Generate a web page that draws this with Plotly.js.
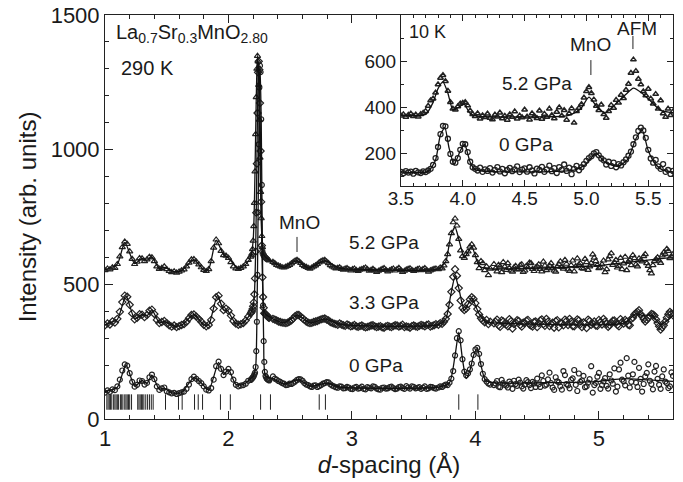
<!DOCTYPE html>
<html>
<head>
<meta charset="utf-8">
<script src="https://cdn.plot.ly/plotly-3.0.1.min.js"></script>
<style>html,body{margin:0;padding:0;background:#fff;}#chart{width:683px;height:482px;}</style>
</head>
<body>
<div id="chart"></div>
<script>
// ---- main panel (290 K): d-spacing grid shared by all three pressures ----
const dMain = [
1.00,1.02,1.04,1.06,1.08,1.10,1.12,1.14,1.16,1.18,1.20,1.22,1.24,1.26,1.28,1.30,1.32,1.34,1.36,1.38,
1.40,1.42,1.44,1.46,1.48,1.50,1.52,1.54,1.56,1.58,1.60,1.62,1.64,1.66,1.68,1.70,1.72,1.74,1.76,1.78,
1.80,1.82,1.84,1.86,1.88,1.90,1.92,1.94,1.96,1.98,2.00,2.02,2.04,2.06,2.08,2.10,2.12,2.14,2.16,
2.180,2.185,2.190,2.195,2.200,2.205,2.210,2.215,2.220,2.225,2.230,2.235,2.240,2.245,2.250,2.255,2.260,
2.265,2.270,2.275,2.280,2.285,2.290,2.295,2.300,2.305,2.310,2.315,2.320,2.325,2.330,
2.36,2.39,2.42,2.45,2.48,2.51,2.54,2.57,2.60,2.63,2.66,2.69,2.72,2.75,2.78,2.81,2.84,2.87,2.90,2.93,
2.96,2.99,3.02,3.05,3.08,3.11,3.14,3.17,3.20,3.23,3.26,3.29,3.32,3.35,3.38,3.41,3.44,3.47,3.50,3.53,
3.56,3.59,3.62,3.65,3.68,
3.700,3.715,3.730,3.745,3.760,3.775,3.790,3.805,3.820,3.835,3.850,3.865,3.880,3.895,3.910,3.925,3.940,
3.955,3.970,3.985,4.000,4.015,4.030,4.045,4.060,4.075,4.090,4.105,4.120,
4.150,4.175,4.200,4.225,4.250,4.275,4.300,4.325,4.350,4.375,4.400,4.425,4.450,4.475,4.500,4.525,4.550,
4.575,4.600,4.625,4.650,4.675,4.700,4.725,4.750,4.775,4.800,4.825,4.850,4.875,4.900,4.925,4.950,4.975,
5.000,5.025,5.050,5.075,5.100,5.125,5.150,5.175,5.200,5.225,5.250,5.275,5.300,5.325,5.350,5.375,5.400,
5.425,5.450,5.475,5.500,5.525,5.550,5.575,5.600];

const obs0GPa = [
98,106,101,110,107,121,146,180,203,198,170,138,120,127,143,141,128,134,155,165,
148,121,108,114,117,103,99,95,97,93,96,99,102,112,128,148,157,149,141,133,
121,109,106,115,146,196,213,186,163,176,186,174,146,127,121,124,126,131,142,
145,148,150,153,156,160,166,172,193,252,361,535,767,1020,1231,1312,1288,1113,869,622,422,289,212,175,160,155,150,148,146,145,143,
158,146,138,131,127,130,139,148,142,128,121,124,119,126,133,136,124,118,121,114,
119,112,117,113,120,110,116,121,113,109,117,114,120,111,118,115,122,113,119,116,112,121,114,118,113,
117,121,119,124,128,126,135,150,178,236,300,326,292,222,176,162,170,184,206,238,258,264,242,204,168,148,139,132,128,
126,141,118,133,124,139,112,130,146,121,128,137,115,132,150,119,141,128,172,117,
155,136,109,163,125,145,182,104,138,160,121,148,98,134,171,126,152,113,143,188,
120,209,140,226,117,166,135,190,102,158,203,130,176,149,112,184,133,121,160];

const obs3GPa = [
348,355,351,362,358,372,398,434,458,454,424,392,370,376,389,387,378,386,402,406,
390,368,356,360,364,356,348,343,347,341,345,349,352,361,374,386,388,380,371,361,
350,344,349,368,410,452,458,428,404,410,402,384,364,354,350,352,356,366,380,
392,396,401,408,419,433,463,522,622,766,948,1136,1287,1328,1297,1173,995,806,644,526,453,413,393,392,389,386,384,381,379,377,376,
372,366,360,357,358,366,382,386,374,362,356,360,364,370,373,366,357,352,355,348,
351,344,349,342,347,340,344,348,341,345,339,346,341,348,343,350,344,339,347,342,349,344,351,346,352,
350,356,353,361,372,390,424,472,528,556,532,486,440,412,404,410,426,444,452,446,430,408,388,374,366,359,368,352,361,
355,369,342,362,350,371,336,358,364,343,357,368,347,360,341,366,352,372,345,358,
363,340,356,369,349,361,344,370,352,359,338,364,355,347,368,351,362,342,358,366,
349,371,354,362,348,376,394,404,381,362,375,390,384,356,332,348,376,398,385];

const obs52GPa = [
552,558,555,563,561,575,603,638,658,650,622,594,575,584,597,596,586,592,602,600,
586,566,557,561,566,556,549,545,548,543,547,551,555,566,580,592,593,584,574,563,
553,549,556,586,636,666,652,624,608,606,598,582,566,559,557,561,566,575,590,
602,607,614,630,662,716,802,919,1057,1195,1300,1348,1327,1240,1111,970,843,745,679,638,617,612,607,604,601,598,597,594,592,590,588,
583,572,566,562,568,577,588,586,572,564,558,566,575,586,590,578,566,559,563,554,
560,551,558,549,556,562,550,557,546,553,560,548,555,551,561,546,554,559,549,556,552,560,547,554,558,
556,562,559,570,586,612,648,690,730,744,718,668,626,604,598,612,622,640,648,636,608,582,560,586,578,552,566,534,558,
575,548,566,582,553,561,547,568,556,574,551,563,578,549,566,557,584,552,569,560,
547,575,564,590,555,571,548,596,578,558,582,566,611,586,560,574,545,592,615,581,
562,598,577,552,591,608,574,596,585,612,568,540,586,600,579,618,631,597,612];

// additional observed points lying between the grid points above
const dExtra = [
2.375,2.405,2.435,2.465,2.495,2.525,2.555,2.585,2.615,2.645,2.675,2.705,2.735,2.765,2.795,2.825,2.855,2.885,2.915,2.945,
2.975,3.005,3.035,3.065,3.095,3.125,3.155,3.185,3.215,3.245,3.275,3.305,3.335,3.365,3.395,3.425,3.455,3.485,3.515,3.545,
3.575,3.605,3.635,3.665,
4.1625,4.1875,4.2125,4.2375,4.2625,4.2875,4.3125,4.3375,4.3625,4.3875,4.4125,4.4375,4.4625,4.4875,4.5125,4.5375,4.5625,4.5875,
4.6125,4.6375,4.6625,4.6875,4.7125,4.7375,4.7625,4.7875,4.8125,4.8375,4.8625,4.8875,4.9125,4.9375,4.9625,4.9875,5.0125,5.0375,
5.0625,5.0875,5.1125,5.1375,5.1625,5.1875,5.2125,5.2375,5.2625,5.2875,5.3125,5.3375,5.3625,5.3875,5.4125,5.4375,5.4625,5.4875,
5.5125,5.5375,5.5625,5.5875];
const extra0GPa = [
150,141,133,126,131,134,145,147,133,126,119,125,122,131,137,129,121,116,120,115,
117,111,119,115,112,118,114,119,110,116,113,118,115,113,120,112,117,121,114,118,116,112,119,115,
132,120,145,127,117,131,142,123,135,113,144,126,138,119,129,162,124,147,133,108,
140,121,178,130,114,151,127,169,143,118,135,196,126,157,112,140,123,166,131,102,
184,146,125,161,138,212,119,149,130,171,142,110,197,127,158,139,115,173];
const extra3GPa = [
369,362,358,356,362,374,386,380,368,358,357,362,367,372,369,360,354,350,351,346,
348,346,344,345,343,342,347,344,343,340,344,343,345,347,346,341,342,345,344,346,347,349,343,348,
361,348,366,355,344,363,352,367,349,358,365,351,343,362,356,370,346,361,353,339,
367,357,348,364,372,345,358,366,341,355,369,350,362,346,360,372,353,348,365,357,
344,360,368,350,372,388,398,390,371,368,382,388,370,344,340,362,389,392];
const extra52GPa = [
578,569,563,565,572,583,590,579,567,561,562,570,581,589,584,571,562,561,557,558,
555,556,552,554,559,556,553,551,550,557,553,551,558,556,553,550,557,553,552,558,556,553,551,557,
559,572,545,566,578,551,563,555,571,546,568,580,557,562,574,548,569,560,578,551,
565,585,558,576,549,588,567,573,560,594,553,579,599,572,563,588,556,604,572,590,
568,556,602,583,571,597,566,589,604,578,552,571,593,588,607,612,624,603];

// fitted profiles (main panel)
const fit0D = [1.00,1.10,1.17,1.24,1.30,1.34,1.38,1.44,1.48,1.54,1.62,1.72,1.78,1.84,1.92,1.96,2.00,2.06,2.12,2.18,2.20,2.22,2.23,2.24,2.25,2.256,2.265,2.275,2.285,2.30,2.36,2.45,2.57,2.66,2.80,2.90,3.20,3.70,3.79,3.835,3.865,3.895,3.925,3.955,3.985,4.015,4.045,4.08,4.15,4.60,5.00,5.20,5.40,5.60];
const fit0Y = [102,118,202,122,143,132,163,110,115,97,98,154,134,107,210,165,183,128,128,150,158,193,361,767,1231,1312,1113,622,289,160,150,130,146,122,133,118,114,118,135,236,322,222,150,180,236,262,200,145,135,135,140,150,145,140];
const fit3D = [1.00,1.10,1.17,1.24,1.30,1.34,1.38,1.44,1.48,1.56,1.62,1.72,1.80,1.84,1.91,1.96,1.99,2.06,2.12,2.18,2.20,2.21,2.22,2.23,2.24,2.246,2.255,2.265,2.275,2.285,2.30,2.36,2.45,2.56,2.66,2.78,2.90,3.20,3.70,3.76,3.80,3.835,3.865,3.91,3.97,4.03,4.09,4.20,5.20,5.30,5.35,5.43,5.50,5.60];
const fit3Y = [350,370,458,372,388,383,405,357,362,345,348,388,349,350,458,405,404,354,357,392,419,463,622,948,1287,1330,1173,806,526,413,389,372,357,386,357,372,352,345,350,372,460,530,486,404,448,390,360,356,356,390,385,385,350,385];
const fit52D = [1.00,1.10,1.16,1.24,1.30,1.34,1.38,1.44,1.48,1.56,1.62,1.72,1.80,1.84,1.90,1.96,2.00,2.08,2.14,2.18,2.20,2.21,2.22,2.23,2.236,2.245,2.255,2.265,2.28,2.30,2.36,2.45,2.55,2.65,2.78,2.90,3.20,3.70,3.76,3.80,3.835,3.865,3.91,3.97,4.03,4.10,4.50,5.00,5.30,5.60];
const fit52Y = [554,575,656,577,596,590,601,558,563,547,551,592,553,557,664,610,598,558,574,602,662,802,1057,1300,1350,1240,970,745,617,601,583,563,588,560,588,560,554,557,585,680,712,668,600,640,568,558,560,570,585,600];

// Bragg reflection positions
const braggD = [1.015,1.025,1.035,1.045,1.055,1.07,1.08,1.09,1.10,1.11,1.125,1.135,1.145,1.16,1.17,1.18,1.19,1.20,1.215,1.265,1.275,1.285,1.295,1.305,1.315,1.33,1.345,1.36,1.375,1.39,1.49,1.595,1.625,1.725,1.755,1.79,1.935,2.015,2.26,2.34,2.735,2.785,3.865,4.02];
const braggLevel = 63;

// ---- inset (10 K) ----
const dInset = [3.50,3.52,3.54,3.56,3.58,3.60,3.62,3.64,3.66,3.68,3.70,3.72,3.74,3.76,3.78,3.80,3.82,3.84,3.86,3.88,
3.90,3.92,3.94,3.96,3.98,4.00,4.02,4.04,4.06,4.08,4.10,4.12,4.14,4.16,4.18,4.20,4.22,4.24,4.26,4.28,
4.30,4.32,4.34,4.36,4.38,4.40,4.42,4.44,4.46,4.48,4.50,4.52,4.54,4.56,4.58,4.60,4.62,4.64,4.66,4.68,
4.70,4.72,4.74,4.76,4.78,4.80,4.82,4.84,4.86,4.88,4.90,4.92,4.94,4.96,4.98,5.00,5.02,5.04,5.06,5.08,
5.10,5.12,5.14,5.16,5.18,5.20,5.22,5.24,5.26,5.28,5.30,5.32,5.34,5.36,5.38,5.40,5.42,5.44,5.46,5.48,
5.50,5.52,5.54,5.56,5.58,5.60,5.62,5.64,5.66,5.68,5.70];
const in52GPa = [362,368,357,365,371,360,366,358,369,374,382,404,428,436,462,498,526,538,512,470,
421,392,388,402,414,418,421,406,384,369,360,372,349,363,355,371,352,346,366,358,
375,350,361,344,368,356,380,349,362,354,388,358,345,372,360,351,384,348,370,357,
392,364,350,378,398,362,386,344,372,394,331,382,396,412,440,468,486,460,432,404,
386,410,368,352,382,408,396,430,418,452,438,474,500,548,606,556,522,498,468,450,
478,436,414,456,392,428,372,356,392,364,380];
const in0GPa = [118,112,121,115,119,110,122,116,113,120,117,124,131,148,178,226,282,318,316,262,
196,162,158,178,214,240,238,204,162,138,131,124,136,118,129,122,134,115,127,139,
120,131,112,126,135,121,129,142,117,128,133,119,138,124,111,132,126,140,118,129,
145,121,134,113,139,127,150,122,136,108,131,144,125,138,152,166,178,186,198,204,
190,176,168,150,162,144,158,138,152,146,160,172,188,206,238,268,296,310,298,266,
214,176,158,170,142,131,152,118,126,109,122];
const fitIn52D = [3.50,3.70,3.76,3.80,3.84,3.88,3.92,3.97,4.01,4.06,4.12,4.50,4.85,4.95,5.02,5.08,5.15,5.25,5.32,5.38,5.45,5.52,5.60,5.70];
const fitIn52Y = [365,368,420,480,509,460,388,400,412,372,360,357,362,390,443,405,374,420,455,482,460,425,385,375];
const fitIn0D = [3.50,3.72,3.78,3.82,3.855,3.89,3.93,3.98,4.015,4.06,4.10,4.90,4.98,5.08,5.15,5.25,5.33,5.40,5.45,5.50,5.56,5.62,5.70];
const fitIn0Y = [117,120,170,280,310,220,150,210,238,160,128,126,145,198,160,142,170,262,300,210,150,125,118];

const ink = '#222222';
const mk = (sym, size, w) => ({symbol: sym, size: size, color: ink, line: {color: ink, width: w}});
const fitLine = {color: '#111111', width: 1.3, shape: 'spline', smoothing: 0.6};
const pts = (x, y, marker, xa, ya) => ({x: x, y: y, type: 'scatter', mode: 'markers', marker: marker, xaxis: xa, yaxis: ya});
const fit = (x, y, xa, ya) => ({x: x, y: y, type: 'scatter', mode: 'lines', line: fitLine, xaxis: xa, yaxis: ya});

const traces = [
  pts(dMain, obs0GPa, mk('circle-open', 5, 1.2), 'x', 'y'),
  pts(dExtra, extra0GPa, mk('circle-open', 5, 1.2), 'x', 'y'),
  pts(dMain, obs3GPa, mk('diamond-open', 5.5, 1.2), 'x', 'y'),
  pts(dExtra, extra3GPa, mk('diamond-open', 5.5, 1.2), 'x', 'y'),
  pts(dMain, obs52GPa, mk('triangle-up-open', 5.5, 1.2), 'x', 'y'),
  pts(dExtra, extra52GPa, mk('triangle-up-open', 5.5, 1.2), 'x', 'y'),
  fit(fit0D, fit0Y, 'x', 'y'),
  fit(fit3D, fit3Y, 'x', 'y'),
  fit(fit52D, fit52Y, 'x', 'y'),
  pts(braggD, braggD.map(() => braggLevel),
      {symbol: 'line-ns-open', size: 11, color: ink, line: {color: ink, width: 1}}, 'x', 'y'),
  pts(dInset, in0GPa, mk('circle-open', 5, 1.3), 'x2', 'y2'),
  pts(dInset, in52GPa, mk('triangle-up-open', 5, 1.5), 'x2', 'y2'),
  fit(fitIn0D, fitIn0Y, 'x2', 'y2'),
  fit(fitIn52D, fitIn52Y, 'x2', 'y2')
];

const axBase = {
  showline: true, linecolor: ink, linewidth: 1, mirror: 'ticks', ticks: 'inside',
  tickcolor: ink, tickwidth: 1, showgrid: false, zeroline: false
};

const font = 'Liberation Sans, Arial, Helvetica, sans-serif';
const ann = (xref, yref, x, y, text, size, xanchor) => ({
  xref: xref, yref: yref, x: x, y: y, text: text, showarrow: false,
  xanchor: xanchor || 'left', yanchor: 'middle', font: {size: size, color: '#1a1a1a', family: font}
});

const layout = {
  width: 683, height: 482,
  margin: {l: 105, r: 10, t: 15, b: 63},
  paper_bgcolor: '#ffffff', plot_bgcolor: '#ffffff',
  showlegend: false,
  font: {family: font, color: '#1a1a1a'},
  xaxis: Object.assign({}, axBase, {
    domain: [0, 1], anchor: 'y', range: [1, 5.6], tickvals: [1, 2, 3, 4, 5], ticklen: 8,
    minor: {ticks: 'inside', dtick: 0.2, tick0: 1, ticklen: 4, tickcolor: ink, tickwidth: 1},
    tickfont: {size: 22, family: font, color: '#1a1a1a'},
    title: {text: '<i>d</i>-spacing (Å)', font: {size: 24, family: font, color: '#1a1a1a'}, standoff: 4}
  }),
  yaxis: Object.assign({}, axBase, {
    domain: [0, 1], anchor: 'x', range: [0, 1500], tickvals: [0, 500, 1000, 1500], ticklen: 8,
    minor: {ticks: 'inside', dtick: 100, tick0: 0, ticklen: 4, tickcolor: ink, tickwidth: 1},
    tickfont: {size: 22, family: font, color: '#1a1a1a'},
    title: {text: 'Intensity (arb. units)', font: {size: 24, family: font, color: '#1a1a1a'}, standoff: 7}
  }),
  xaxis2: Object.assign({}, axBase, {
    domain: [0.521, 1], anchor: 'y2', range: [3.5, 5.7], tickvals: [3.5, 4.0, 4.5, 5.0, 5.5],
    ticktext: ['3.5', '4.0', '4.5', '5.0', '5.5'], ticklen: 6, ticklabelstandoff: -5,
    minor: {ticks: 'inside', dtick: 0.1, tick0: 3.5, ticklen: 3, tickcolor: ink, tickwidth: 1},
    tickfont: {size: 19, family: font, color: '#1a1a1a'}
  }),
  yaxis2: Object.assign({}, axBase, {
    domain: [0.577, 1], anchor: 'x2', range: [57, 800], tickvals: [200, 400, 600], ticklen: 6,
    minor: {ticks: 'inside', dtick: 100, tick0: 0, ticklen: 3, tickcolor: ink, tickwidth: 1},
    tickfont: {size: 19, family: font, color: '#1a1a1a'}
  }),
  annotations: [
    ann('x', 'y', 1.075, 1433, 'La<sub>0.7</sub>Sr<sub>0.3</sub>MnO<sub>2.80</sub>', 20),
    ann('x', 'y', 1.115, 1303, '290 K', 20),
    ann('x', 'y', 2.579, 728, 'MnO', 19, 'center'),
    ann('x', 'y', 2.96, 657, '5.2 GPa', 19),
    ann('x', 'y', 2.96, 434, '3.3 GPa', 19),
    ann('x', 'y', 2.96, 200, '0 GPa', 19),
    ann('x2', 'y2', 3.55, 726, '10 K', 18),
    ann('x2', 'y2', 4.30, 504, '5.2 GPa', 19),
    ann('x2', 'y2', 4.277, 235, '0 GPa', 19),
    ann('x2', 'y2', 5.03, 670, 'MnO', 19, 'center'),
    ann('x2', 'y2', 5.41, 743, 'AFM', 19, 'center')
  ],
  shapes: [
    {type: 'line', xref: 'x', yref: 'y', x0: 2.555, x1: 2.555, y0: 620, y1: 676, line: {color: ink, width: 1}},
    {type: 'line', xref: 'x2', yref: 'y2', x0: 5.036, x1: 5.036, y0: 539, y1: 604, line: {color: ink, width: 1}},
    {type: 'line', xref: 'x2', yref: 'y2', x0: 5.376, x1: 5.376, y0: 652, y1: 709, line: {color: ink, width: 1}}
  ]
};

Plotly.newPlot('chart', traces, layout, {displayModeBar: false, staticPlot: true});
</script>
</body>
</html>
